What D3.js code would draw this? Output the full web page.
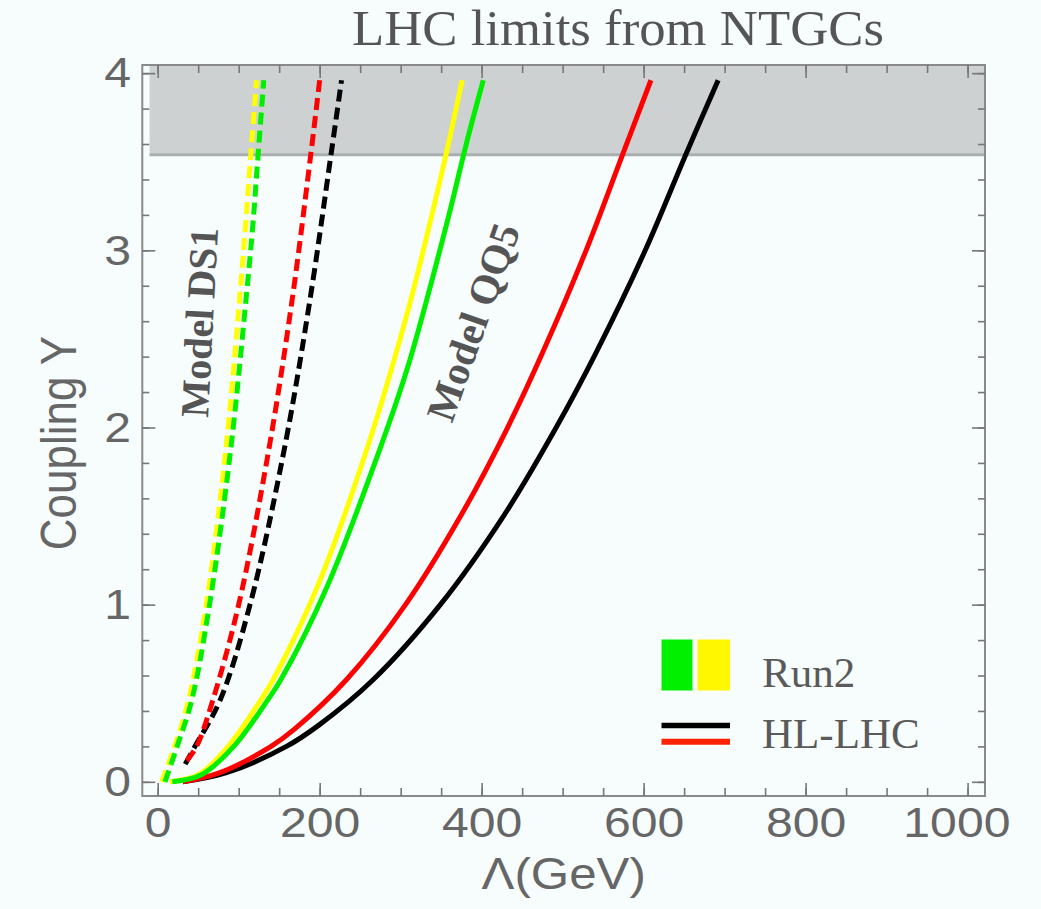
<!DOCTYPE html>
<html>
<head>
<meta charset="utf-8">
<script src="https://cdn.jsdelivr.net/npm/d3@7/dist/d3.min.js"></script>
<style>
  body { margin: 0; background: #f7fdfd; }
  svg { display: block; }
</style>
</head>
<body>
<div id="chart"></div>
<script>
// tick labels
const lambdaTicks = [0, 200, 400, 600, 800, 1000];
const couplingTicks = [0, 1, 2, 3, 4];

// excluded region (grey band), in data units
const bandLambda = [-10, 1021.5];
const bandCoupling = [3.54, 4.046];

// curves: [Lambda (GeV), coupling Y]
// Model QQ5 (solid)
const qq5Yellow = [[15, 0], [50, 0.04], [87, 0.2], [127.5, 0.463], [142.5, 0.576], [197, 1.1], [258, 1.874], [309, 2.66], [337, 3.17], [356, 3.54], [376, 3.96]];
const qq5Green  = [[18, 0], [54, 0.04], [94, 0.2], [136, 0.463], [152, 0.576], [209, 1.1], [274, 1.874], [310, 2.36], [358, 3.17], [381, 3.6], [402, 3.96]];
const qq5Red    = [[31, 0], [76, 0.05], [140, 0.2], [167, 0.29], [233, 0.576], [306, 1.0], [374, 1.5], [431, 1.99], [475, 2.42], [529, 3.0], [574, 3.54], [609, 3.96]];
const qq5Black  = [[31, 0], [84, 0.05], [159, 0.2], [199, 0.32], [266, 0.576], [349, 1.0], [427, 1.5], [492, 2.0], [541, 2.42], [602, 3.0], [652, 3.54], [692, 3.96]];
// Model DS1 (dashed)
const ds1Yellow = [[5, 0], [21, 0.2], [38, 0.46], [60, 1.0], [84, 1.87], [101, 2.72], [108, 3.115], [115, 3.54], [122, 3.96]];
const ds1Green  = [[9, 0], [24, 0.2], [42, 0.46], [64, 1.0], [90, 1.87], [109, 2.72], [117, 3.115], [124, 3.54], [131, 3.96]];
const ds1Red    = [[36, 0.12], [48, 0.2], [68, 0.46], [100, 1.0], [137, 1.87], [166, 2.72], [189, 3.54], [200, 3.96]];
const ds1Black  = [[34, 0.1], [46, 0.2], [77, 0.46], [114, 1.0], [156, 1.87], [188, 2.72], [214, 3.54], [227, 3.96]];

const W = 1041, H = 909;
const frame = { left: 142.3, right: 985, top: 65, bottom: 796 };
const sansFont = "'Liberation Sans', Arial, Helvetica, sans-serif";
const serifFont = "'Liberation Serif', 'Times New Roman', serif";
const textGrey = "#666";
const stretch = 1.12; // the original is slightly wider than tall

const svg = d3.select("#chart")
    .append("svg")
    .attr("width", W)
    .attr("height", H);

svg.append("rect")
    .attr("width", W)
    .attr("height", H)
    .attr("fill", "#f7fdfd");

const x = d3.scaleLinear().domain([-19, 1021.5]).range([frame.left, frame.right]);
const y = d3.scaleLinear().domain([-0.08, 4.046]).range([frame.bottom, frame.top]);

// grey band
svg.append("rect")
    .attr("x", x(bandLambda[0]))
    .attr("y", y(bandCoupling[1]))
    .attr("width", x(bandLambda[1]) - x(bandLambda[0]))
    .attr("height", y(bandCoupling[0]) - y(bandCoupling[1]))
    .attr("fill", "#cdd1d1");
svg.append("line")
    .attr("x1", x(bandLambda[0]))
    .attr("x2", x(bandLambda[1]))
    .attr("y1", y(bandCoupling[0]))
    .attr("y2", y(bandCoupling[0]))
    .attr("stroke", "#a9aeae")
    .attr("stroke-width", 3);

// curves
const line = d3.line()
    .x(function (d) { return x(d[0]); })
    .y(function (d) { return y(d[1]); })
    .curve(d3.curveCatmullRom.alpha(0.5));

function drawCurve(data, color, dashed) {
    svg.append("path")
        .datum(data)
        .attr("fill", "none")
        .attr("stroke", color)
        .attr("stroke-width", 5)
        .attr("stroke-dasharray", dashed ? "12,6" : null)
        .attr("d", line);
}

drawCurve(qq5Black, "#000000", false);
drawCurve(qq5Red, "#ff0000", false);
drawCurve(qq5Yellow, "#ffff00", false);
drawCurve(qq5Green, "#00ee00", false);
drawCurve(ds1Black, "#000000", true);
drawCurve(ds1Red, "#ff0000", true);
drawCurve(ds1Yellow, "#ffff00", true);
drawCurve(ds1Green, "#00ee00", true);

// frame
svg.append("rect")
    .attr("x", frame.left)
    .attr("y", frame.top)
    .attr("width", frame.right - frame.left)
    .attr("height", frame.bottom - frame.top)
    .attr("fill", "none")
    .attr("stroke", "#8a8a8a")
    .attr("stroke-width", 2);

// ticks on all four sides, pointing inwards
function styleAxis(g) {
    g.select(".domain").remove();
    g.selectAll(".tick line").attr("stroke", "#777").attr("stroke-width", 1.6);
    g.selectAll(".tick text")
        .attr("fill", textGrey)
        .style("font-family", sansFont)
        .style("font-size", "43px")
        .attr("transform", "scale(" + stretch + ",1)");
}

const minorX = x.ticks(20);
const minorY = y.ticks(20);

svg.append("g")
    .attr("transform", "translate(0," + frame.bottom + ")")
    .call(d3.axisBottom(x).tickValues(minorX).tickSize(-8).tickFormat(""))
    .call(styleAxis);
svg.append("g")
    .attr("class", "x-axis")
    .attr("transform", "translate(0," + frame.bottom + ")")
    .call(d3.axisBottom(x).tickValues(lambdaTicks).tickSizeInner(-13).tickSizeOuter(0)
        .tickPadding(10.5).tickFormat(d3.format("d")))
    .call(styleAxis)
    .call(function (g) {
        g.selectAll(".tick text").filter(function (d) { return d === 1000; }).attr("dx", -10);
    });
svg.append("g")
    .attr("transform", "translate(0," + frame.top + ")")
    .call(d3.axisTop(x).tickValues(minorX).tickSize(-8).tickFormat(""))
    .call(styleAxis);
svg.append("g")
    .attr("transform", "translate(0," + frame.top + ")")
    .call(d3.axisTop(x).tickValues(lambdaTicks).tickSize(-13).tickFormat(""))
    .call(styleAxis);

svg.append("g")
    .attr("transform", "translate(" + frame.left + ",0)")
    .call(d3.axisLeft(y).tickValues(minorY).tickSize(-7).tickFormat(""))
    .call(styleAxis);
svg.append("g")
    .attr("class", "y-axis")
    .attr("transform", "translate(" + frame.left + ",0)")
    .call(d3.axisLeft(y).tickValues(couplingTicks).tickSizeInner(-13).tickSizeOuter(0)
        .tickPadding(10).tickFormat(d3.format("d")))
    .call(styleAxis);
svg.append("g")
    .attr("transform", "translate(" + frame.right + ",0)")
    .call(d3.axisRight(y).tickValues(minorY).tickSize(-7).tickFormat(""))
    .call(styleAxis);
svg.append("g")
    .attr("transform", "translate(" + frame.right + ",0)")
    .call(d3.axisRight(y).tickValues(couplingTicks).tickSize(-13).tickFormat(""))
    .call(styleAxis);

// axis titles
svg.append("text")
    .attr("transform", "translate(" + (frame.left + frame.right) / 2 + ",889) scale(" + stretch + ",1)")
    .attr("text-anchor", "middle")
    .attr("fill", textGrey)
    .style("font-family", sansFont)
    .style("font-size", "44px")
    .text("\u039B(GeV)");

svg.append("text")
    .attr("transform", "translate(76,443) scale(" + stretch + ",1) rotate(-90)")
    .attr("text-anchor", "middle")
    .attr("fill", textGrey)
    .style("font-family", sansFont)
    .style("font-size", "44px")
    .text("Coupling Y");

// title
svg.append("text")
    .attr("x", 618)
    .attr("y", 45)
    .attr("text-anchor", "middle")
    .attr("textLength", 532)
    .attr("lengthAdjust", "spacingAndGlyphs")
    .attr("fill", "#555")
    .style("font-family", serifFont)
    .style("font-size", "50px")
    .text("LHC limits from NTGCs");

// model labels
svg.append("text")
    .attr("transform", "translate(208,418) rotate(-87)")
    .attr("fill", "#555")
    .style("font-family", serifFont)
    .style("font-weight", "bold")
    .style("font-size", "40px")
    .text("Model DS1");

svg.append("text")
    .attr("transform", "translate(452,424) rotate(-70.6)")
    .attr("fill", "#555")
    .style("font-family", serifFont)
    .style("font-weight", "bold")
    .style("font-size", "41px")
    .text("Model QQ5");

// legend
const legend = svg.append("g");
legend.append("rect").attr("x", 661.5).attr("y", 639.5).attr("width", 31).attr("height", 51).attr("fill", "#00f000");
legend.append("rect").attr("x", 697.5).attr("y", 639.5).attr("width", 32.5).attr("height", 51).attr("fill", "#fff700");
legend.append("line").attr("x1", 661.5).attr("x2", 730).attr("y1", 725.5).attr("y2", 725.5)
    .attr("stroke", "#000").attr("stroke-width", 5.5);
legend.append("line").attr("x1", 661.5).attr("x2", 730).attr("y1", 741.7).attr("y2", 741.7)
    .attr("stroke", "#ff2200").attr("stroke-width", 6);
legend.append("text").attr("x", 762).attr("y", 687)
    .attr("fill", "#5a5a5a").style("font-family", serifFont).style("font-size", "43px").text("Run2");
legend.append("text").attr("x", 762).attr("y", 748)
    .attr("fill", "#5a5a5a").style("font-family", serifFont).style("font-size", "43px").text("HL-LHC");
</script>
</body>
</html>
